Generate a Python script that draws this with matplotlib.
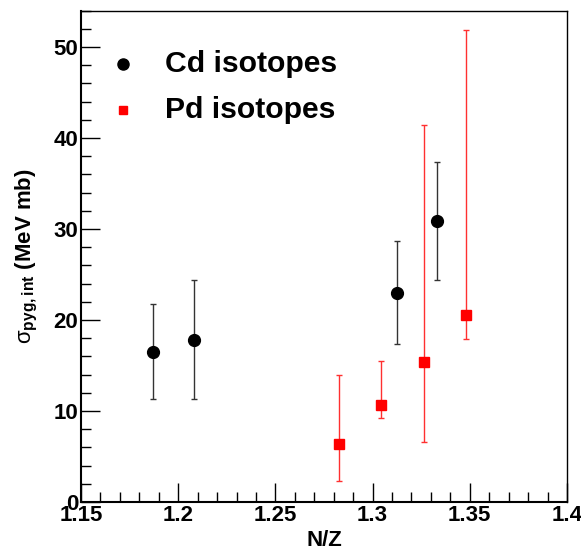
import matplotlib
matplotlib.use("Agg")
import matplotlib.pyplot as plt
from matplotlib.ticker import MultipleLocator, FixedLocator

plt.rcParams['font.family'] = ['Liberation Sans', 'DejaVu Sans']
plt.rcParams['mathtext.fontset'] = 'custom'
plt.rcParams['mathtext.rm'] = 'Liberation Sans'
plt.rcParams['mathtext.bf'] = 'Liberation Sans:bold'

cd_nz = [1.1872, 1.2080, 1.3124, 1.3333]
cd_val = [16.5, 17.8, 23.0, 30.9]
cd_up = [21.8, 24.4, 28.7, 37.4]
cd_lo = [11.3, 11.3, 17.4, 24.4]

pd_nz = [1.2826, 1.3045, 1.3263, 1.3480]
pd_val = [6.4, 10.7, 15.4, 20.5]
pd_up = [14.0, 15.5, 41.4, 51.9]
pd_lo = [2.3, 9.2, 6.6, 17.9]

xticks = [1.15, 1.2, 1.25, 1.3, 1.35, 1.4]
xticklabels = ['1.15', '1.2', '1.25', '1.3', '1.35', '1.4']
yticks = [0, 10, 20, 30, 40, 50]

fig = plt.figure(figsize=(5.81, 5.53), dpi=100)
ax = fig.add_axes([81/581, 1-502/553, (567-81)/581, (502-10.7)/553])

def err(vals, up, lo):
    return [[v - l for v, l in zip(vals, lo)], [u - v for u, v in zip(up, vals)]]

ax.errorbar(cd_nz, cd_val, yerr=err(cd_val, cd_up, cd_lo), fmt='o', color='black',
            ms=8.5, elinewidth=1.0, capsize=2.5, capthick=1.0, ecolor='#333333')
ax.errorbar(pd_nz, pd_val, yerr=err(pd_val, pd_up, pd_lo), fmt='s', color='red',
            ms=6.5, elinewidth=1.0, capsize=2.5, capthick=1.0, ecolor='#ff3030')

ax.set_xlim(1.15, 1.4)
ax.set_ylim(0, 54)
ax.xaxis.set_major_locator(FixedLocator(xticks))
ax.set_xticklabels(xticklabels)
ax.xaxis.set_minor_locator(MultipleLocator(0.01))
ax.yaxis.set_major_locator(FixedLocator(yticks))
ax.yaxis.set_minor_locator(MultipleLocator(2))
ax.tick_params(which='both', direction='in', top=False, right=False, width=1.0, color='black')
ax.tick_params(which='major', length=14, labelsize=16, pad=2)
ax.tick_params(which='minor', length=7)
for lbl in ax.get_xticklabels() + ax.get_yticklabels():
    lbl.set_fontweight('bold')
for sp in ax.spines.values():
    sp.set_linewidth(1.0)
ax.spines['left'].set_linewidth(1.5)
ax.spines['bottom'].set_linewidth(1.5)

ax.set_xlabel('N/Z', fontsize=16, fontweight='bold', labelpad=3)
ax.set_ylabel(r'$\mathrm{\sigma}_{\mathbf{pyg,int}}$ (MeV mb)', fontsize=16, fontweight='bold', labelpad=10)

# legend (drawn manually, ROOT-style)
lx_marker = 1.15 + (123 - 81) / 1944
lx_text = 1.15 + (165 - 81) / 1944
ly1 = (502 - 64) / 9.1
ly2 = (502 - 110) / 9.1
ax.plot([lx_marker], [ly1], 'o', color='black', ms=8)
ax.plot([lx_marker], [ly2], 's', color='red', ms=6)
ax.text(lx_text, ly1, 'Cd isotopes', fontsize=21.7, fontweight='bold', va='center', ha='left')
ax.text(lx_text, ly2, 'Pd isotopes', fontsize=21.7, fontweight='bold', va='center', ha='left')

fig.savefig('out.png', dpi=100)
